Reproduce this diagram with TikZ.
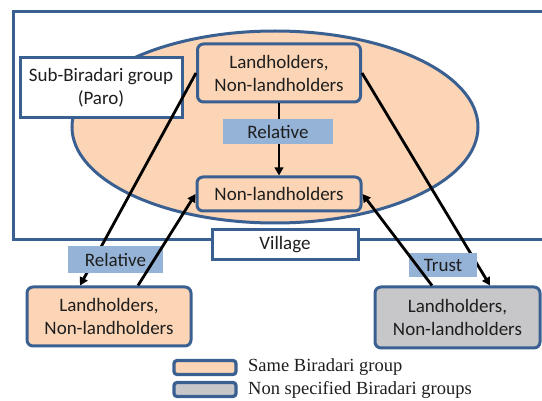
\documentclass[tikz,border=0pt]{standalone}
\usepackage{fontspec}
\setmainfont{Carlito}
\newfontfamily\legendfont{Liberation Serif}
\usetikzlibrary{arrows.meta}

\definecolor{boxblue}{RGB}{58,96,146}
\definecolor{orangefill}{RGB}{251,213,181}
\definecolor{grayfill}{RGB}{199,199,201}
\definecolor{labelblue}{RGB}{149,179,215}
\definecolor{txt}{RGB}{30,30,30}

\tikzset{
  box/.style={draw=boxblue, line width=3pt, rounded corners=6pt, align=center,
    text=txt, inner sep=0pt, font=\fontsize{19}{23}\selectfont},
  squarebox/.style={draw=boxblue, line width=3pt, fill=white, align=center,
    text=txt, inner sep=0pt, font=\fontsize{19}{23}\selectfont},
  lbl/.style={fill=labelblue, text=txt, inner sep=0pt,
    font=\fontsize{19}{23}\selectfont},
  arr/.style={line width=2.8pt, black, -{Triangle[length=8pt,width=8.5pt]}},
  legbox/.style={draw=boxblue, line width=3.2pt, rounded corners=3pt,
    minimum width=62pt, minimum height=14pt, inner sep=0pt},
  legtext/.style={anchor=west, text=txt, inner sep=0pt,
    font=\legendfont\fontsize{18.5}{21}\selectfont}
}

\begin{document}
\begin{tikzpicture}[x=1pt,y=-1pt]
\useasboundingbox (0,0) rectangle (542,401);

% village frame, open on the right
\draw[boxblue, line width=3pt] (545,12) -- (13,12) -- (13,240) -- (545,240);

% sub-Biradari group
\draw[boxblue, line width=3pt, fill=orangefill] (275,127) ellipse [x radius=203, y radius=96];

\node[squarebox, minimum width=162pt, minimum height=60pt] (paro) at (101,88)
  {Sub-Biradari group\\(Paro)};

\node[box, fill=orangefill, minimum width=163pt, minimum height=58pt] (top) at (279,73)
  {Landholders,\\Non-landholders};
\node[box, fill=orangefill, minimum width=164pt, minimum height=34pt] (nl) at (279,194)
  {Non-landholders};

\node[squarebox, minimum width=146pt, minimum height=30pt] (village) at (285,245) {Village};

\node[box, fill=orangefill, minimum width=164pt, minimum height=59pt] (bl) at (109,316.5)
  {Landholders,\\Non-landholders};
\node[box, fill=grayfill, minimum width=165pt, minimum height=61pt] (br) at (457.5,317.5)
  {Landholders,\\Non-landholders};

% ties passing beneath the labels
\draw[arr] (top.west) -- ([xshift=-29pt]bl.north);
\draw[arr] (top.east) -- ([xshift=32.5pt]br.north);
\draw[arr] (top.south) -- (nl.north);

\node[lbl, minimum width=110pt, minimum height=25pt] (rel1) at (278,131.5) {Relative};
\node[lbl, minimum width=95pt, minimum height=27pt] (rel2) at (115.5,259.5) {Relative};
\node[lbl, minimum width=68pt, minimum height=24pt] (trust) at (443,265) {Trust};

% ties drawn over the labels
\draw[arr] ([xshift=29pt]bl.north) -- (nl.west);
\draw[arr] ([xshift=-25.5pt]br.north) -- (nl.east);

% legend
\node[legbox, fill=orangefill] (lego) at (205,367.5) {};
\node[legbox, fill=grayfill] (legg) at (205,389.5) {};
\node[legtext] (legotext) at (248,367.5) {Same Biradari group};
\node[legtext] (leggtext) at (248,389.5) {Non specified Biradari groups};
\end{tikzpicture}
\end{document}
